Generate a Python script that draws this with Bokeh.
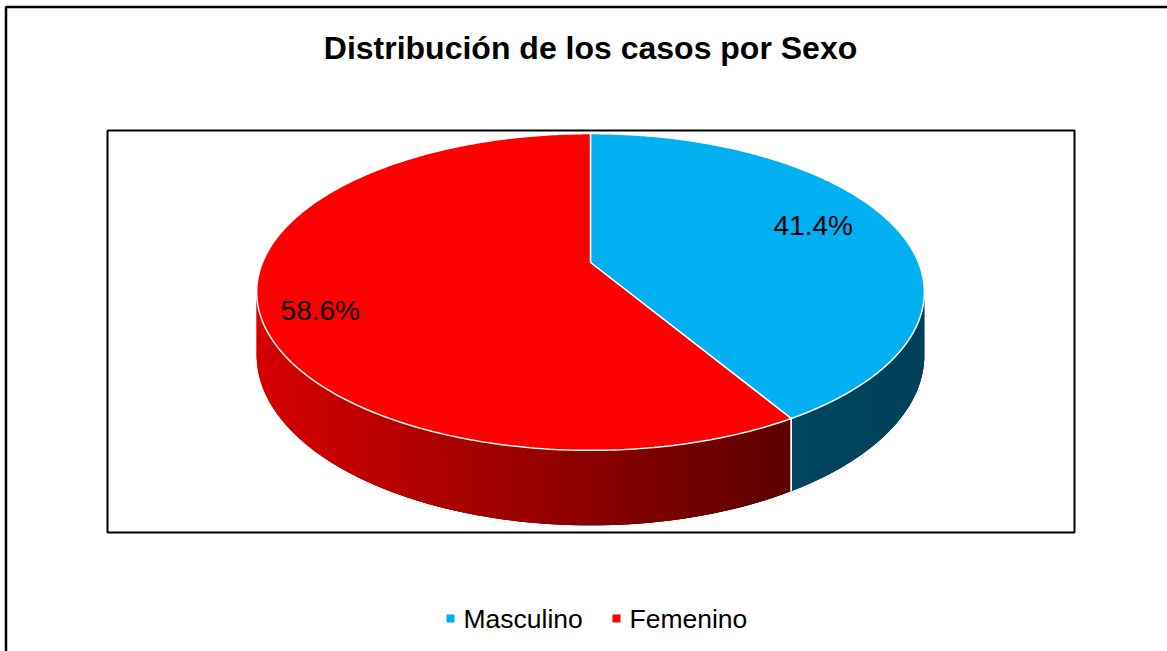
import numpy as np
from bokeh.plotting import figure
from bokeh.models import Range1d, BoxAnnotation
from bokeh.embed import file_html
from bokeh.resources import INLINE
from bokeh.core.properties import value

# ---------------- data ----------------
title_text = "Distribución de los casos por Sexo"
categories = ["Masculino", "Femenino"]
shares = [41.4, 58.6]
share_labels = ["41.4%", "58.6%"]
top_colors = ["#00B0F0", "#FF0000"]

# ---------------- layout / style ----------------
W, H = 1167, 651
FONT = "Liberation Sans"
cx = 590.0          # pie centre x (screen px)
yh = -560.0         # horizon of the perspective
K = 822.0           # perspective scale (vertical)
A = 328.0           # horizontal scale
r = 0.186           # radius / camera distance
kb = 1.0743         # bottom plane factor (pie depth)
side_shade = [(0.40, 0.37), (0.84, 0.36)]   # left->right shade per slice side
label_rho = [0.73, 0.82]
label_dy = [-8, 13]
legend_marker_x = [450, 616]
legend_y = 618

p = figure(width=W, height=H, x_range=Range1d(0, W), y_range=Range1d(H, 0),
           output_backend="svg", toolbar_location=None, min_border=0,
           x_axis_location=None, y_axis_location=None)
p.grid.visible = False
p.outline_line_color = None
p.background_fill_color = "white"
p.border_fill_color = "white"

# outer chart border (right/bottom edges lie outside the window)
p.add_layout(BoxAnnotation(left=5.5, top=6.5, right=W + 20, bottom=H + 20,
                           fill_alpha=0, line_color="black", line_alpha=1.0, line_width=2.5))
# plot area box
p.add_layout(BoxAnnotation(left=107, right=1074, top=130, bottom=532,
                           fill_alpha=0, line_color="black", line_alpha=1.0, line_width=2))


def proj(phi, rho=1.0, bottom=False):
    d = 1 + r * rho * np.cos(phi)
    x = cx + A * rho * np.sin(phi) / d
    y = yh + K * (kb if bottom else 1.0) / d
    return x, y


cum = np.concatenate([[0], np.cumsum(shares)])
angles = 2 * np.pi * cum / cum[-1]


def shade_hex(base, f):
    b = base.lstrip("#")
    rgb = [int(b[i:i + 2], 16) for i in (0, 2, 4)]
    return "#%02x%02x%02x" % tuple(int(round(max(0, min(255, c * f)))) for c in rgb)


# ---------- sides ----------
side_xs, side_ys, side_cols = [], [], []
edge_x0, edge_y0, edge_x1, edge_y1 = [], [], [], []
for i in range(len(shares)):
    a0, a1 = angles[i], angles[i + 1]
    ph = np.linspace(a0, a1, 300)
    vis = np.cos(ph) < -r
    ph = ph[vis]
    n = len(ph)
    if n < 2:
        continue
    xt, yt = proj(ph)
    xb, yb = proj(ph, bottom=True)
    xmin, xmax = xt.min(), xt.max()
    s0, s1 = side_shade[i]
    for j in range(n - 1):
        k = min(j + 3, n - 1)
        xm = 0.5 * (xt[j] + xt[j + 1])
        t = (xm - xmin) / (xmax - xmin) if xmax > xmin else 0
        col = shade_hex(top_colors[i], s0 + (s1 - s0) * t)
        side_xs.append([xt[j], xt[k], xb[k], xb[j]])
        side_ys.append([yt[j], yt[k], yb[k], yb[j]])
        side_cols.append(col)
    # boundary edges on the side
    for a in (a0, a1):
        if np.cos(a) < -r:
            x0, y0 = proj(a)
            x1, y1 = proj(a, bottom=True)
            edge_x0.append(x0); edge_y0.append(y0)
            edge_x1.append(x1); edge_y1.append(y1)

p.patches(side_xs, side_ys, fill_color=side_cols, line_color=None)
p.segment(edge_x0, edge_y0, edge_x1, edge_y1, line_color="white", line_width=1.5)

# ---------- top faces ----------
vx, vy = proj(0.0, rho=0.0)
top_xs, top_ys = [], []
for i in range(len(shares)):
    ph = np.linspace(angles[i], angles[i + 1], 300)
    xt, yt = proj(ph)
    top_xs.append(np.concatenate([[vx], xt]))
    top_ys.append(np.concatenate([[vy], yt]))
p.patches(top_xs, top_ys, fill_color=top_colors, line_color="white", line_width=1.5)

# ---------- data labels ----------
mids = 0.5 * (angles[:-1] + angles[1:])
lx, ly = [], []
for i, m in enumerate(mids):
    x, y = proj(m, rho=label_rho[i])
    lx.append(x)
    ly.append(y + label_dy[i])
p.text(lx, ly, text=share_labels, text_font=value(FONT), text_font_size="28px",
       text_align="center", text_baseline="middle", text_color="black")

# ---------- title ----------
p.text([590], [47], text=[title_text], text_font=value(FONT), text_font_size="32px",
       text_font_style="bold", text_align="center", text_baseline="middle", text_color="black")

# ---------- legend ----------
p.rect(legend_marker_x, [legend_y] * len(categories), width=8, height=8,
       fill_color=top_colors, line_color=None)
p.text([x + 13 for x in legend_marker_x], [legend_y] * len(categories), text=categories,
       text_font=value(FONT), text_font_size="26.5px", text_align="left",
       text_baseline="middle", text_color="black")

open("out.html", "w").write(file_html(p, INLINE))
